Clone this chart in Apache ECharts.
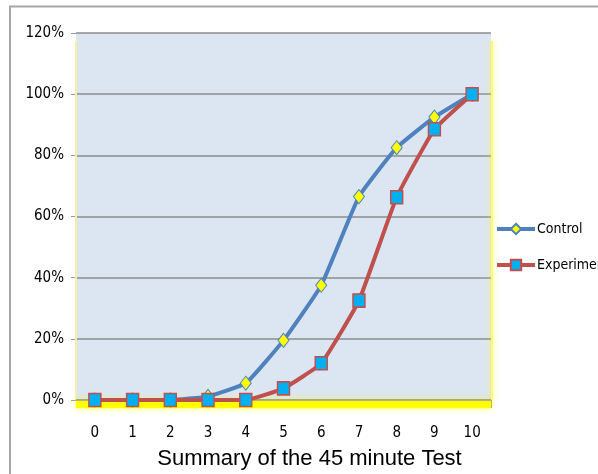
<!DOCTYPE html>
<html><head><meta charset="utf-8">
<script src="https://cdn.jsdelivr.net/npm/echarts@6/dist/echarts.min.js"></script>
<style>html,body{margin:0;padding:0;background:#fff}#c{width:598px;height:474px}</style>
</head><body><div id="c"></div>
<script>
const categories = ['0','1','2','3','4','5','6','7','8','9','10'];
const controlValues = [0, 0, 0, 1.2, 5.5, 19.5, 37.5, 66.5, 82.5, 92.5, 100];
const experimentValues = [0, 0, 0, 0, 0, 3.8, 12, 32.5, 66.3, 88.5, 100];
const yTicks = [0, 20, 40, 60, 80, 100, 120];

const FONT = '"Liberation Sans Narrow","DejaVu Sans Condensed","Liberation Sans",sans-serif';
const chart = echarts.init(document.getElementById('c'));
const G = {left: 76, right: 107, top: 33, bottom: 74};
chart.setOption({
  animation: false,
  backgroundColor: '#fff',
  grid: {left: G.left, right: G.right, top: G.top, bottom: G.bottom, show: true,
         backgroundColor: '#dce6f2', borderWidth: 0, containLabel: false, outerBoundsMode: 'none'},
  legend: {
    orient: 'vertical', left: 490, top: 217, itemGap: 22, itemWidth: 38, itemHeight: 13,
    lineStyle: {width: 4},
    textStyle: {fontFamily: FONT, fontSize: 14, color: '#000', padding: [0,0,0,-3]},
    data: ['Control', 'Experiment']
  },
  xAxis: {
    type: 'category', data: categories, boundaryGap: true,
    name: 'Summary of the 45 minute Test', nameLocation: 'middle', nameGap: 48,
    nameTextStyle: {fontFamily: '"Liberation Sans",Arial,sans-serif', fontSize: 22, color: '#000',
                    padding: [0, 0, 0, 52]},
    axisLine: {show: false},
    axisTick: {show: true, inside: false, length: 8, lineStyle: {color: '#9a9a9a'}},
    axisLabel: {fontFamily: FONT, fontSize: 15, color: '#000', margin: 26}
  },
  yAxis: {
    type: 'value', min: 0, max: 120, interval: 20,
    axisLine: {show: false},
    axisTick: {show: true, length: 5, lineStyle: {color: '#9a9a9a'}},
    axisLabel: {fontFamily: FONT, fontSize: 15, color: '#000', margin: 12,
                formatter: v => yTicks.includes(v) ? v + '%' : ''},
    splitLine: {lineStyle: {color: '#8c8c8c', width: 1.5}}
  },
  series: [
    {name: 'Control', type: 'line', data: controlValues, smooth: 0.12,
     symbol: 'diamond', symbolSize: [11, 14],
     lineStyle: {color: '#4f81bd', width: 4},
     itemStyle: {color: '#ffff00', borderColor: '#4f81bd', borderWidth: 1},
     z: 3},
    {name: 'Experiment', type: 'line', data: experimentValues, smooth: 0.12,
     symbol: 'rect', symbolSize: [12, 13],
     lineStyle: {color: '#c0504d', width: 4},
     itemStyle: {color: '#00b0f0', borderColor: '#c0504d', borderWidth: 1.5},
     z: 4}
  ]
});

const yZero = chart.convertToPixel({yAxisIndex: 0}, 0);
const yTop = chart.convertToPixel({yAxisIndex: 0}, 120);
const gl = G.left, gr = 598 - G.right;
chart.setOption({
  graphic: [
    {type: 'polyline', shape: {points: [[10, 474], [10, 6.5], [598, 6.5]]},
     style: {stroke: '#a6a6a6', lineWidth: 2, fill: null}, silent: true},
    {type: 'rect', shape: {x: gl, y: yZero, width: gr - gl, height: 8},
     style: {fill: '#ffff00', shadowBlur: 6, shadowColor: 'rgba(255,255,0,0.8)'}, z: 1, silent: true},
    {type: 'rect', shape: {x: gr, y: yTop + 8, width: 2, height: yZero - yTop - 8},
     style: {fill: '#ffff66', shadowBlur: 6, shadowColor: 'rgba(255,255,0,0.7)'}, z: 1, silent: true},
    {type: 'rect', shape: {x: gl - 1, y: yTop + 8, width: 2, height: yZero - yTop - 8},
     style: {fill: '#f4f0a0'}, z: 1, silent: true},
    {type: 'line', shape: {x1: gl, y1: yZero, x2: gr, y2: yZero},
     style: {stroke: '#9a9a9a', lineWidth: 1.5}, z: 2, silent: true}
  ]
});
</script></body></html>
